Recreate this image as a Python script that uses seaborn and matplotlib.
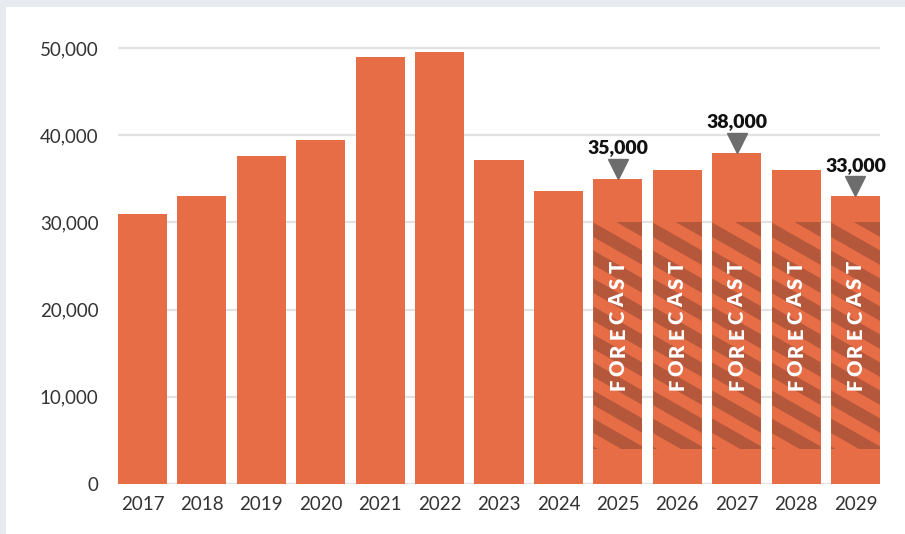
import numpy as np
import pandas as pd
import matplotlib
matplotlib.use("Agg")
import matplotlib.pyplot as plt
import seaborn as sns
from matplotlib.patches import Rectangle, Polygon
from matplotlib.transforms import IdentityTransform, offset_copy

# Annual totals, actuals through 2024 and forecasts from 2025
years = ["2017", "2018", "2019", "2020", "2021", "2022", "2023",
         "2024", "2025", "2026", "2027", "2028", "2029"]
values = [31000, 33000, 37600, 39400, 49000, 49600, 37200,
          33600, 35000, 36000, 38000, 36000, 33000]
forecast_years = ["2025", "2026", "2027", "2028", "2029"]
labelled_years = ["2025", "2027", "2029"]
y_ticks = [0, 10000, 20000, 30000, 40000, 50000]
forecast_band = (4000, 30000)

BAR = "#e66d46"
STRIPE = "#b5573a"
BG = "#e7eaee"

sns.set_theme(style="white")
plt.rcParams["font.family"] = ["Lato", "DejaVu Sans"]

fig = plt.figure(figsize=(9.05, 5.34), dpi=100)
fig.patch.set_facecolor(BG)
# white card
fig.add_artist(Rectangle((6 / 905, 0), 1, 1 - 7 / 534, transform=fig.transFigure,
                         facecolor="white", edgecolor="none", zorder=0))

ax = fig.add_axes([118 / 905, 1 - 484 / 534, (880 - 118) / 905, (484 - 39.3) / 534])
ax.set_facecolor("none")

df = pd.DataFrame({"year": years, "value": values})
sns.barplot(data=df, x="year", y="value", color=BAR, saturation=1, width=0.826,
            edgecolor="none", ax=ax, zorder=2)
bars = list(ax.patches)

ax.set_xlim(-0.413, 12.413)
ax.set_ylim(0, 51000)
ax.set_yticks(y_ticks)
ax.set_yticklabels([f"{v:,}" for v in y_ticks])
ax.yaxis.grid(True, color="#e2e2e2", linewidth=1.6, zorder=0)
ax.set_axisbelow(True)
for s in ax.spines.values():
    s.set_visible(False)
ax.set_xlabel("")
ax.set_ylabel("")
ax.tick_params(axis="both", length=0, labelsize=13.5, labelcolor="#333333")
ax.tick_params(axis="y", pad=14)
ax.tick_params(axis="x", pad=9)

# striped forecast band inside each forecast bar
period = 28.0
dark = 14.5
slope = 0.57
for patch, yr in zip(bars, years):
    if yr not in forecast_years:
        continue
    x0 = patch.get_x()
    w = patch.get_width()
    band = Rectangle((x0, forecast_band[0]), w, forecast_band[1] - forecast_band[0],
                     transform=ax.transData, facecolor="none", edgecolor="none")
    ax.add_patch(band)
    (px0, py0) = ax.transData.transform((x0, forecast_band[0]))
    (px1, py1) = ax.transData.transform((x0 + w, forecast_band[1]))
    pw = px1 - px0
    # stripes run down to the right (pixel y grows upward here)
    start = py1 + slope * pw
    k = 0
    while True:
        ytop = start - k * period
        if ytop < py0 - period:
            break
        poly = Polygon([(px0, ytop), (px0, ytop - dark),
                        (px1, ytop - dark - slope * pw), (px1, ytop - slope * pw)],
                       closed=True, transform=IdentityTransform(),
                       facecolor=STRIPE, edgecolor="none", zorder=3)
        ax.add_patch(poly)
        poly.set_clip_path(band)
        k += 1
    # spaced vertical label
    word = "FORECAST"
    step = 16.8
    cx = x0 + w / 2
    cy = 18200
    n = len(word)
    for i, ch in enumerate(word):
        off = (i - (n - 1) / 2) * step
        tr = offset_copy(ax.transData, fig=fig, x=0, y=off, units="dots")
        ax.text(cx, cy, ch, transform=tr, rotation=90, ha="center", va="center",
                color="white", fontsize=14.5, fontweight="heavy", zorder=4)

# value markers above selected forecast bars
for i, (yr, v) in enumerate(zip(years, values)):
    if yr not in labelled_years:
        continue
    tri = offset_copy(ax.transData, fig=fig, x=0, y=10, units="dots")
    ax.plot([i], [v], marker="v", markersize=14, color="#6d6d6d",
            transform=tri, clip_on=False, zorder=5)
    lab = offset_copy(ax.transData, fig=fig, x=0, y=31, units="dots")
    ax.text(i, v, f"{v:,}", transform=lab, ha="center", va="center",
            fontsize=14, fontweight="heavy", color="#111111", zorder=5)

fig.savefig("out.png", dpi=100, facecolor=BG)
